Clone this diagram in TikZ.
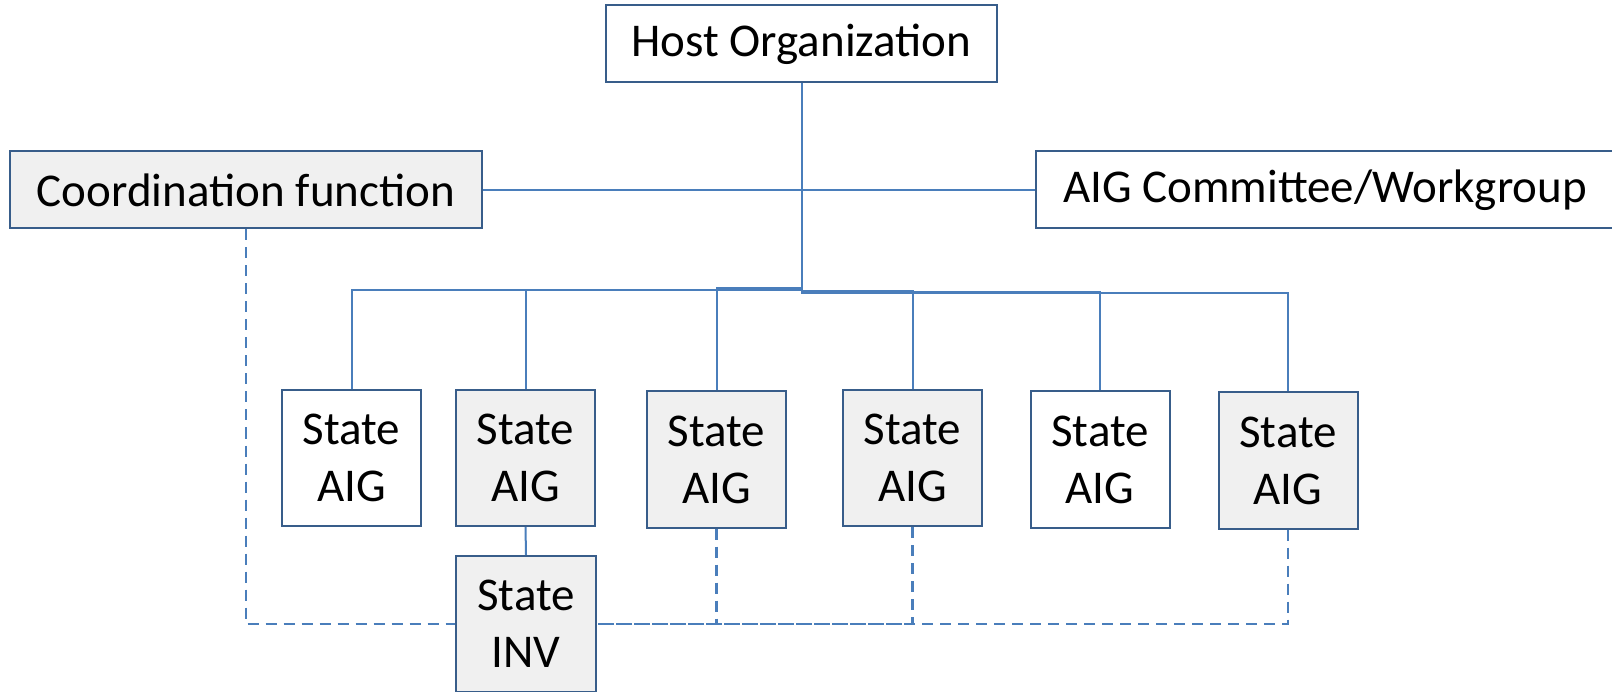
\documentclass[tikz,border=0pt]{standalone}
\usepackage{fontspec}
\setmainfont{Carlito}
\usetikzlibrary{positioning}
\definecolor{boxline}{HTML}{385D8A}
\definecolor{connline}{HTML}{4A7EBB}
\definecolor{boxfill}{HTML}{F0F0F0}
\tikzset{
  orgbox/.style={draw=boxline, line width=2pt, inner sep=0pt, align=center,
    font=\fontsize{47}{57}\selectfont},
  widebox/.style={orgbox, minimum height=77pt},
  statebox/.style={orgbox, minimum width=139pt, minimum height=136pt},
  shaded/.style={fill=boxfill},
  conn/.style={draw=connline, line width=2pt},
  dashconn/.style={draw=connline, line width=2.8pt, dash pattern=on 11pt off 7pt}
}
\begin{document}
\begin{tikzpicture}[x=1pt, y=-1pt]
\useasboundingbox (0,0) rectangle (1612,692);

% top level and side units
\node[widebox, minimum width=391pt] (host) at (801.5,44) {Host Organization};
\node[widebox, shaded, minimum width=472pt] (coord) at (246,190) {Coordination function};
\node[widebox, minimum width=578pt] (cmte) at (1325,190) {AIG Committee/Workgroup};

% state groups
\node[statebox] (b1) at (351.5,458) {State\\AIG};
\node[statebox, shaded] (b2) at (525.5,458) {State\\AIG};
\node[statebox, shaded] (b3) at (716.5,459.5) {State\\AIG};
\node[statebox, shaded] (b4) at (912.5,458) {State\\AIG};
\node[statebox] (b5) at (1100,459.5) {State\\AIG};
\node[statebox, shaded] (b6) at (1288,460.5) {State\\AIG};
\node[statebox, shaded, minimum width=140pt] (inv) at (526,624) {State\\INV};

% solid reporting lines
\draw[conn] (coord.east) -- (cmte.west);
\draw[conn] (host.south) -- ++(0,207) -| (b1.north);
\draw[conn] (host.south) -- ++(0,207) -| (b2.north);
\draw[conn] (host.south) -- ++(0,205) -| (b3.north);
\draw[conn] (host.south) -- ++(0,208) -| (b4.north);
\draw[conn] (host.south) -- ++(0,209) -| (b5.north);
\draw[conn] (host.south) -- ++(0,210) -| (b6.north);
\draw[conn] (b2.south) -- (inv.north);

% dashed coordination links
\draw[dashconn] (coord.south) |- (inv.west);
\draw[dashconn] (b3.south) |- (inv.east);
\draw[dashconn] (b4.south) |- (inv.east);
\draw[dashconn] (b6.south) |- (inv.east);
\end{tikzpicture}
\end{document}
